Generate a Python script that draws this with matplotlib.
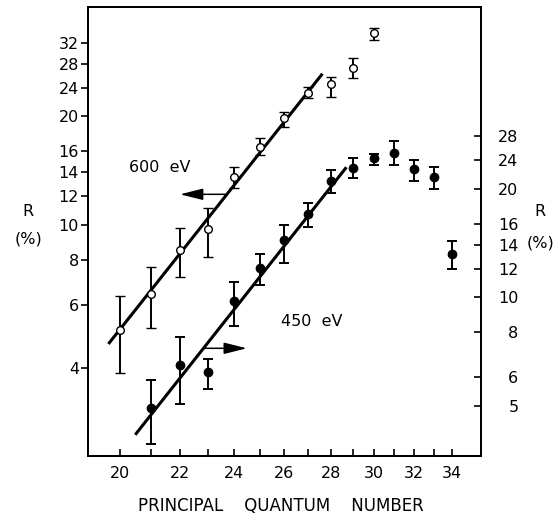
import matplotlib
matplotlib.use('Agg')
import matplotlib.pyplot as plt
import numpy as np
from matplotlib.ticker import FixedLocator, FixedFormatter, NullLocator

# ---- data ----
n_600 = [20, 21, 22, 23, 24, 25, 26, 27, 28, 29, 30]
R_600 = [5.10, 6.42, 8.51, 9.72, 13.55, 16.48, 19.76, 23.28, 24.57, 27.3, 34.0]
R_600_lo = [3.88, 5.16, 7.15, 8.15, 12.63, 15.63, 18.73, 22.46, 22.7, 25.5, 32.6]
R_600_hi = [6.34, 7.65, 9.78, 11.15, 14.44, 17.39, 20.62, 24.2, 25.7, 29.0, 35.1]

n_450 = [21, 22, 23, 24, 25, 26, 27, 28, 29, 30, 31, 32, 33, 34]
R_450 = [4.92, 6.47, 6.18, 9.77, 12.03, 14.45, 17.05, 21.1, 22.9, 24.3, 25.2, 22.7, 21.6, 13.2]
R_450_lo = [3.92, 5.05, 5.56, 8.30, 10.82, 12.46, 15.66, 19.5, 21.4, 23.3, 23.3, 21.05, 19.97, 12.0]
R_450_hi = [5.89, 7.74, 6.72, 11.05, 13.17, 15.9, 18.28, 22.5, 24.3, 25.0, 27.25, 24.0, 23.05, 14.3]

fit600_n = [19.66, 27.59]
fit600_R = [4.70, 26.08]
fit450_n = [20.52, 28.67]
fit450_R = [4.18, 22.8]

x_ticks = list(range(20, 35))
x_labels = [str(v) if v % 2 == 0 else '' for v in x_ticks]
yl_ticks = [4, 6, 8, 10, 12, 14, 16, 20, 24, 28, 32]
yr_ticks = [5, 6, 8, 10, 12, 14, 16, 20, 24, 28]

# ---- figure ----
fig = plt.figure(figsize=(5.6, 5.21), dpi=100)
ax = fig.add_axes([0.1571, 0.1248, 0.7018, 0.8618])
ax2 = ax.twinx()

for a in (ax, ax2):
    a.set_xscale('log')
    a.set_yscale('log')
    for s in a.spines.values():
        s.set_linewidth(1.4)

ax.set_xlim(19.0, 35.6)
ax.set_ylim(2.278, 40.28)
k = 1.59
ax2.set_ylim(2.278 * k, 40.28 * k)

ax.xaxis.set_major_locator(FixedLocator(x_ticks))
ax.xaxis.set_major_formatter(FixedFormatter(x_labels))
ax.xaxis.set_minor_locator(NullLocator())
ax.yaxis.set_major_locator(FixedLocator(yl_ticks))
ax.yaxis.set_major_formatter(FixedFormatter([str(v) for v in yl_ticks]))
ax.yaxis.set_minor_locator(NullLocator())
ax2.yaxis.set_major_locator(FixedLocator(yr_ticks))
ax2.yaxis.set_major_formatter(FixedFormatter([str(v) for v in yr_ticks]))
ax2.yaxis.set_minor_locator(NullLocator())

fs = 11.5
ax.tick_params(axis='x', direction='in', length=5, width=1.2, pad=7, labelsize=fs, top=False)
ax.tick_params(axis='y', direction='out', length=5, width=1.2, pad=1.5, labelsize=fs, right=False)
ax2.tick_params(axis='y', direction='in', length=5, width=1.2, pad=27, labelsize=fs)
for t in ax2.yaxis.get_major_ticks():
    t.label2.set_horizontalalignment('right')

# error bars
ax.errorbar(n_600, R_600,
            yerr=[np.array(R_600) - np.array(R_600_lo), np.array(R_600_hi) - np.array(R_600)],
            fmt='o', mfc='white', mec='black', mew=1.0, ms=5.5, ecolor='black',
            elinewidth=1.4, capsize=3.6, capthick=1.4, zorder=3)
ax2.errorbar(n_450, R_450,
             yerr=[np.array(R_450) - np.array(R_450_lo), np.array(R_450_hi) - np.array(R_450)],
             fmt='o', mfc='black', mec='black', ms=6, ecolor='black',
             elinewidth=1.4, capsize=3.6, capthick=1.4, zorder=3)

# fit lines
ax.plot(fit600_n, fit600_R, color='black', lw=2.2, zorder=2)
ax2.plot(fit450_n, fit450_R, color='black', lw=2.2, zorder=2)

# arrows & labels
ax.annotate('', xy=(22.01, 12.15), xytext=(23.66, 12.15),
            arrowprops=dict(arrowstyle='-|>,head_length=1.4,head_width=0.35',
                            color='black', fc='black', lw=1.1, shrinkA=0, shrinkB=0,
                            mutation_scale=10))
ax.annotate('', xy=(24.49, 4.537), xytext=(22.91, 4.537),
            arrowprops=dict(arrowstyle='-|>,head_length=1.4,head_width=0.35',
                            color='black', fc='black', lw=1.1, shrinkA=0, shrinkB=0,
                            mutation_scale=10))
ax.text(21.32, 14.38, '600  eV', ha='center', va='center', fontsize=fs)
ax.text(27.17, 5.40, '450  eV', ha='center', va='center', fontsize=fs)

fig.text(28 / 560, 1 - 212 / 521, 'R', ha='center', va='center', fontsize=fs)
fig.text(28 / 560, 1 - 239 / 521, '(%)', ha='center', va='center', fontsize=fs)
fig.text(540 / 560, 1 - 211 / 521, 'R', ha='center', va='center', fontsize=fs)
fig.text(540 / 560, 1 - 243 / 521, '(%)', ha='center', va='center', fontsize=fs)
fig.text(281 / 560, 1 - 506 / 521, 'PRINCIPAL    QUANTUM    NUMBER', ha='center', va='center', fontsize=12)

fig.savefig('out.png', dpi=100)
